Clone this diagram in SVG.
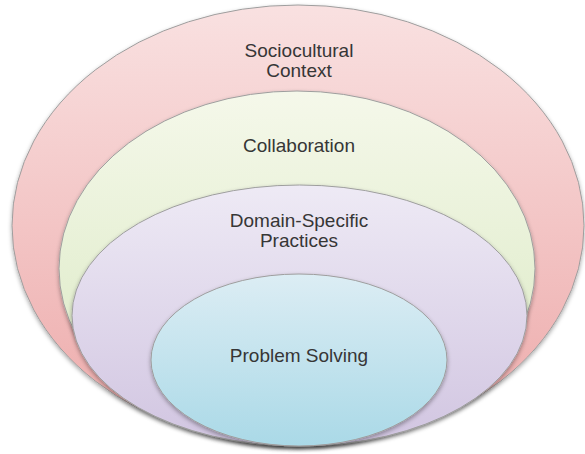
<svg xmlns="http://www.w3.org/2000/svg" width="585" height="454" viewBox="0 0 585 454">
  <defs>
    <linearGradient id="gRed" x1="0" y1="0" x2="0" y2="1">
      <stop offset="0" stop-color="#f9e1e1"/>
      <stop offset="1" stop-color="#eda9a9"/>
    </linearGradient>
    <linearGradient id="gGreen" x1="0" y1="0" x2="0" y2="1">
      <stop offset="0" stop-color="#f5f8ea"/>
      <stop offset="1" stop-color="#d8e8c0"/>
    </linearGradient>
    <linearGradient id="gPurple" x1="0" y1="0" x2="0" y2="1">
      <stop offset="0" stop-color="#eeeaf5"/>
      <stop offset="1" stop-color="#d1c5e1"/>
    </linearGradient>
    <linearGradient id="gBlue" x1="0" y1="0" x2="0" y2="1">
      <stop offset="0" stop-color="#dcedf4"/>
      <stop offset="1" stop-color="#aad9e7"/>
    </linearGradient>
    <filter id="shadow" x="-10%" y="-10%" width="120%" height="125%">
      <feDropShadow dx="0" dy="2" stdDeviation="2" flood-color="#000" flood-opacity="0.35"/>
    </filter>
  </defs>
  <style>
    .ring { stroke: #9e9e9e; stroke-width: 1; filter: url(#shadow); }
    .lbl { font-family: "Liberation Sans", Arial, sans-serif; font-size: 19px; fill: #363636; text-anchor: middle; }
  </style>
  <rect width="585" height="454" fill="#ffffff"/>
  <g id="sociocultural">
    <ellipse class="ring" cx="298" cy="225.5" rx="286" ry="220.5" fill="url(#gRed)"/>
    <text class="lbl" x="299" y="57">Sociocultural</text>
    <text class="lbl" x="299" y="77">Context</text>
  </g>
  <g id="collaboration">
    <ellipse class="ring" cx="297" cy="268.5" rx="238" ry="177.5" fill="url(#gGreen)"/>
    <text class="lbl" x="299" y="152">Collaboration</text>
  </g>
  <g id="domain">
    <ellipse class="ring" cx="299.5" cy="315.5" rx="227.5" ry="130.5" fill="url(#gPurple)"/>
    <text class="lbl" x="299" y="227">Domain-Specific</text>
    <text class="lbl" x="299" y="247">Practices</text>
  </g>
  <g id="problem">
    <ellipse class="ring" cx="299" cy="360" rx="148" ry="86" fill="url(#gBlue)"/>
    <text class="lbl" x="299" y="362">Problem Solving</text>
  </g>
  <g id="connectors"/>
</svg>
